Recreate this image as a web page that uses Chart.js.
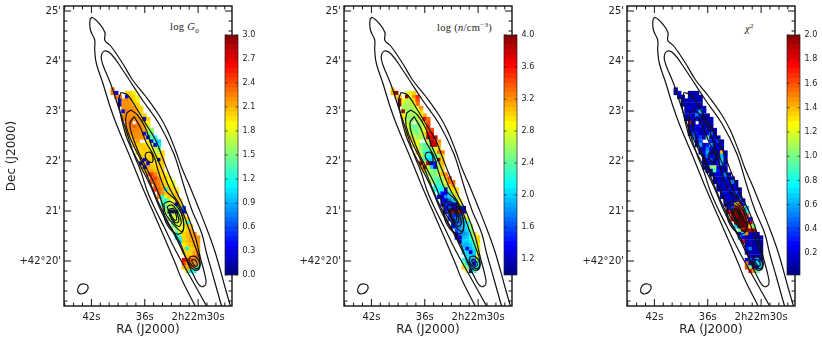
<!DOCTYPE html>
<html lang="en">
<head>
<meta charset="UTF-8">
<title>log G0, log n and chi2 maps</title>
<style>
  html, body { margin: 0; padding: 0; background: #fff; }
  #page { position: relative; width: 822px; height: 342px; overflow: hidden; }
  canvas { position: absolute; }
  .label { position: absolute; font-family: "Liberation Serif", serif; font-size: 10.5px; letter-spacing: 0.3px; color: #222; white-space: nowrap; }
  .label sub, .label sup { font-size: 7px; line-height: 0; }
</style>
</head>
<body>
<div id="page">
  <div class="label" style="left:170px;top:21px">log <i>G</i><sub>0</sub></div>
  <div class="label" style="left:437px;top:22px">log (<i>n</i>/cm<sup>&minus;3</sup>)</div>
  <div class="label" style="left:745px;top:23px"><i>&chi;</i><sup>2</sup></div>
</div>
<script src="https://cdn.jsdelivr.net/npm/chart.js"></script>
<script>
  // axis ticks
  const raMajor = [42, 36, 30];
  const raLabels = ["42s", "36s", "2h22m30s"];
  const raMinor = [45, 44, 43, 41, 40, 39, 38, 37, 35, 34, 33, 32, 31, 29, 28, 27];
  const decMajor = [25, 24, 23, 22, 21, 20];
  const decLabels = ["25'", "24'", "23'", "22'", "21'", "+42°20'"];
  const decMinor = [24.8, 24.6, 24.4, 24.2, 23.8, 23.6, 23.4, 23.2, 22.8, 22.6, 22.4, 22.2, 21.8, 21.6, 21.4, 21.2, 20.8, 20.6, 20.4, 20.2, 19.8, 19.6, 19.4, 19.2];

  // colour bars
  const barG0 = [0.0, 0.3, 0.6, 0.9, 1.2, 1.5, 1.8, 2.1, 2.4, 2.7, 3.0];
  const barN = [1.2, 1.6, 2.0, 2.4, 2.8, 3.2, 3.6, 4.0];
  const barChi = [0.2, 0.4, 0.6, 0.8, 1.0, 1.2, 1.4, 1.6, 1.8, 2.0];

  // pixel grid of the maps (seconds of RA, arcmin of Dec)
  const raCells = [39.6, 39.2, 38.8, 38.4, 38.0, 37.6, 37.2, 36.8, 36.4, 36.0, 35.6, 35.2, 34.8, 34.4, 34.0, 33.6, 33.2, 32.8, 32.4, 32.0, 31.6, 31.2, 30.8, 30.4, 30.0];
  const decCells = [23.43, 23.36, 23.28, 23.21, 23.13, 23.06, 22.99, 22.91, 22.84, 22.76, 22.69, 22.62, 22.54, 22.47, 22.39, 22.32, 22.24, 22.17, 22.10, 22.02, 21.95, 21.87, 21.80, 21.73, 21.65, 21.58, 21.50, 21.43, 21.35, 21.28, 21.21, 21.13, 21.06, 20.98, 20.91, 20.84, 20.76, 20.69, 20.61, 20.54, 20.47, 20.39, 20.32, 20.24, 20.17, 20.09, 20.02, 19.95, 19.87, 19.80];
  // first column used by each row
  const rowStart = [0, 0, 1, 2, 2, 3, 3, 3, 3, 4, 4, 4, 4, 5, 6, 6, 7, 7, 8, 8, 8, 8, 9, 10, 11, 11, 12, 12, 13, 13, 14, 14, 15, 15, 16, 16, 17, 17, 18, 18, 18, 19, 20, 20, 20, 21, 20, 20, 20, 21];

  const logG0 = [
    [2.25],
    [2.25, 0.3, null, null, 2.0, 2.0, 1.9],
    [2.25, 2.25, null, 0.3, 2.05, 2.0, 1.8],
    [0.3, 2.2, 2.25, 2.15, 2.0, 1.9],
    [0.3, 2.2, 2.2, 2.2, 2.05, 2.0],
    [2.2, 2.2, 2.2, 2.2, 2.05, 2.0],
    [0.3, 2.25, 2.2, 2.2, 2.15, 2.0],
    [2.25, 2.2, 2.2, 2.2, 2.15, 2.0, 2.0],
    [2.25, 2.2, 2.25, 2.2, 2.2, 2.15, 0.3, 2.0],
    [2.2, 2.35, null, 2.2, 2.2, 2.05, 1.9],
    [2.2, 2.25, 2.35, 2.25, 2.2, 2.15, 1.7],
    [2.15, 2.2, 2.25, 2.25, 2.2, 2.15, 1.7, 1.6],
    [2.05, 2.2, 2.2, 2.2, 2.2, 0.3, 1.5, 1.4],
    [2.0, 2.2, 2.2, 2.2, 2.15, 0.3, 1.4, 1.2],
    [2.05, 2.15, null, null, 1.9, 0.3, 1.3, 1.0],
    [2.0, 2.05, 2.05, 2.0, 1.9, 1.7, 0.3, 1.1],
    [2.0, 2.0, 2.05, 2.0, 1.9, 1.7, 1.5],
    [2.05, 2.0, 2.0, 2.0, 2.0, 1.8, 1.7, 2.0],
    [2.05, 2.0, 2.0, 2.0, 1.9, 1.9, 2.0],
    [2.0, 0.3, 2.05, 2.0, 1.9, 0.3, 2.0],
    [0.3, 2.05, 0.3, 2.0, 2.0, 2.0, 2.05],
    [2.05, 0.3, 2.15, 2.05, 2.0, 2.0, 2.0],
    [2.05, 2.05, 2.15, 2.05, 2.0, 2.0],
    [2.35, 2.45, 2.25, 2.05, 2.0, 1.9],
    [2.35, 2.45, 2.2, 2.05, 2.0, 1.9],
    [2.35, 2.35, 2.25, 2.05, 2.0, 1.9, 1.8],
    [2.35, 2.25, 2.15, 2.0, 2.0, 1.9],
    [2.45, 2.35, 2.2, 1.1, 2.0, 2.0, 1.9],
    [2.35, 2.2, 2.05, 2.0, 2.0, 2.05],
    [2.25, 1.2, 1.8, 2.05, 2.0, 2.05],
    [1.4, 1.2, 1.6, 1.9, 2.0, 2.05],
    [1.3, 1.5, 1.7, 1.8, 0.3, 2.0],
    [1.4, 1.6, 1.7, 1.6, 1.5, 0.6],
    [1.7, 0.1, 0.1, 0.1, 1.5, 0.4],
    [1.5, 1.7, 1.7, 1.6, 2.0],
    [1.5, 1.7, 1.8, 1.7, 1.9, 2.0],
    [1.4, 1.7, 1.8, 1.8, 1.2],
    [1.5, 1.7, 1.8, 1.9, 2.0, 2.05],
    [1.5, 1.8, 1.9, 2.0, 2.15],
    [1.2, 1.9, 2.0, 2.05, 2.15, 2.2],
    [1.1, 1.3, 2.0, 2.05, 2.15, 2.2, 2.2],
    [1.0, 2.0, 2.05, 2.15, 2.15, 2.2],
    [1.9, 2.0, 2.05, 2.15, 2.15],
    [2.0, 1.1, 2.0, 2.05, 2.15],
    [2.0, 2.0, 2.0, 2.15, 2.2],
    [2.05, 2.05, 2.25, 2.35],
    [2.7, 2.55, 2.35, 2.25, 2.2],
    [2.45, 2.25, 2.25, 2.2, 2.15],
    [2.05, 2.15, 2.2, 2.2, 1.2],
    [2.05, 1.1, 1.2]
  ];

  const logN = [
    [3.0],
    [3.1, 3.95, null, null, 2.8, 2.8, 3.0],
    [3.0, 3.0, null, 3.95, 2.8, 3.2, 3.5],
    [3.95, 2.9, 2.7, 2.7, 3.0, 3.4],
    [3.95, 2.7, 2.6, 2.6, 2.8, 3.3],
    [2.6, 2.6, 2.6, 2.6, 2.8, 3.2],
    [3.95, 2.6, 2.6, 2.6, 2.7, 3.0],
    [2.9, 2.6, 2.6, 2.6, 2.7, 2.9, 3.1],
    [3.0, 2.6, 2.5, 2.5, 2.6, 2.8, 3.6, 3.3],
    [2.7, 2.6, null, 2.6, 2.6, 2.9, 3.4],
    [2.8, 2.6, 2.4, 2.5, 2.6, 2.8, 3.5],
    [3.0, 2.6, 2.5, 2.5, 2.6, 2.8, 3.4, 3.4],
    [3.1, 2.7, 2.6, 2.5, 2.6, 3.0, 3.6, 3.6],
    [3.1, 2.7, 2.6, 2.6, 2.6, 3.9, 3.7, 3.8],
    [3.0, 2.8, null, null, 2.7, 3.9, 3.6, 3.2],
    [2.9, 2.8, 2.5, 2.4, 2.5, 3.7, 3.9, 3.1],
    [3.0, 2.6, 2.4, 2.4, 2.5, 2.8, 3.0],
    [3.1, 2.6, 2.3, 2.2, 2.4, 2.7, 3.3, 3.3],
    [2.9, 2.4, 2.2, 2.1, 2.3, 2.6, 3.0],
    [3.1, 2.3, 2.0, 2.0, 2.3, 3.9, 3.0],
    [3.9, 3.0, 3.9, 1.2, 1.4, 2.6, 3.1],
    [3.0, 3.9, 2.7, 2.0, 1.2, 2.6, 3.0],
    [3.1, 2.7, 2.6, 2.4, 2.7, 3.0],
    [2.6, 2.5, 2.5, 2.7, 3.1, 3.2],
    [2.6, 2.4, 2.4, 2.7, 3.1, 3.4],
    [2.7, 2.4, 2.3, 2.5, 2.9, 3.3, 3.3],
    [2.3, 2.3, 2.3, 2.6, 3.0, 3.2],
    [2.2, 2.2, 2.1, 1.4, 2.7, 3.0, 3.0],
    [2.1, 1.4, 1.3, 2.1, 2.7, 3.0],
    [1.4, 1.2, 1.8, 2.0, 2.5, 3.0],
    [1.3, 1.2, 1.7, 1.9, 2.3, 2.9],
    [1.3, 1.5, 1.2, 1.4, 1.2, 2.7],
    [1.4, 1.6, 1.3, 1.2, 1.2, 1.3],
    [1.5, 3.9, 3.9, 3.9, 3.7, 1.3],
    [1.6, 1.5, 1.5, 1.6, 3.0],
    [1.5, 1.6, 1.7, 1.8, 2.0, 2.8],
    [1.5, 1.6, 1.7, 1.8, 2.2],
    [1.4, 1.7, 1.8, 1.9, 2.1, 2.6],
    [1.6, 1.8, 1.9, 2.0, 2.5],
    [1.3, 1.8, 1.8, 1.9, 2.3, 3.0],
    [1.4, 1.2, 1.9, 2.0, 2.2, 2.6, 3.0],
    [1.3, 2.0, 2.0, 2.1, 2.5, 3.0],
    [1.9, 1.9, 2.0, 2.3, 2.8],
    [2.0, 1.3, 1.9, 2.1, 2.7],
    [2.0, 2.0, 1.2, 2.0, 2.9],
    [2.0, 2.0, 1.9, 2.7],
    [2.2, 2.0, 1.9, 1.8, 2.6],
    [2.6, 2.0, 1.8, 1.3, 2.1],
    [3.0, 2.4, 1.9, 1.8, 2.1],
    [2.9, 1.2, 2.3]
  ];

  const chiSq = [
    [0.1],
    [0.1, 0.2, null, null, 0.1, 0.1, 0.1],
    [0.1, 0.1, null, 0.1, 0.1, 0.15, 0.1],
    [0.1, 0.1, 0.15, 0.2, 0.1, 0.1],
    [0.1, 0.1, 0.1, 0.15, 0.15, 0.1],
    [0.1, 0.2, 0.15, 0.1, 0.1, 0.1],
    [0.1, 0.1, 0.2, 0.3, 0.7, 0.15],
    [0.15, 0.3, 0.1, 0.5, 0.3, 0.1, 0.1],
    [0.1, 0.1, 0.2, 0.3, 0.1, 0.1, 0.1, 0.15],
    [1.9, 0.1, null, 0.2, 0.1, 0.1, 0.1],
    [0.15, 0.1, 0.2, 0.3, 0.1, 0.15, 0.1],
    [0.3, 0.2, 0.2, 0.1, 0.1, 0.2, 0.15, 0.1],
    [0.1, 0.4, 0.3, 0.1, 0.1, 0.2, 0.5, 0.1],
    [0.5, 0.2, 0.4, 0.1, 0.9, 0.1, 0.2, 0.15],
    [0.15, 0.4, null, null, 0.3, 0.1, 0.4, 0.1],
    [0.1, 0.6, 0.1, 0.3, 0.6, 0.2, 0.1, 0.2],
    [0.3, 0.1, 0.5, 0.2, 0.1, 0.2, 0.1],
    [0.1, 0.3, 0.6, 0.1, 0.2, 0.1, 1.4, 0.1],
    [0.2, 0.5, 0.1, 0.3, 0.2, 0.6, 0.2],
    [0.1, 0.2, 0.4, 0.1, 0.2, 0.7, 0.1],
    [0.1, 0.1, 0.2, 0.1, 0.3, 0.6, 0.1],
    [0.1, 0.2, 1.0, 1.1, 0.2, 0.1, 0.15],
    [0.15, 0.1, 0.9, 0.3, 0.2, 0.1],
    [0.1, 0.1, 0.2, 0.15, 0.5, 0.1],
    [0.1, 0.15, 0.1, 0.3, 0.1, 0.1],
    [0.1, 0.2, 0.1, 0.2, 0.15, 0.5, 0.1],
    [0.1, 0.1, 0.2, 0.1, 0.1, 0.2],
    [0.15, 0.1, 0.1, 0.3, 0.1, 0.2, 0.1],
    [0.1, 0.2, 0.1, 0.1, 0.4, 0.1],
    [0.1, 0.1, 0.2, 0.1, 0.1, 0.2],
    [0.1, 0.15, 0.1, 0.1, 0.5, 0.15],
    [0.2, 0.1, 0.1, 1.3, 1.6, 0.3],
    [0.2, 0.4, 1.9, 1.8, 1.3, 0.6],
    [1.9, 1.9, 2.0, 2.0, 1.7, 0.8],
    [1.9, 2.0, 2.0, 1.9, 1.6],
    [1.9, 2.0, 2.0, 2.0, 1.6, 0.3],
    [1.8, 2.0, 2.0, 2.0, 1.9],
    [0.7, 2.0, 2.0, 2.0, 1.3, 1.0],
    [1.0, 1.9, 2.0, 1.9, 1.9],
    [0.3, 0.7, 1.5, 0.1, 0.2, 0.1],
    [0.5, 0.2, 0.1, 0.15, 0.1, 0.1, 0.1],
    [1.8, 0.1, 0.15, 0.1, 0.1, 0.1],
    [0.1, 0.1, 0.1, 0.1, 0.1],
    [0.3, 0.5, 0.1, 0.1, 0.1],
    [0.1, 0.1, 0.15, 0.1, 0.1],
    [0.1, 0.1, 0.2, 0.1],
    [0.2, 0.4, 0.3, 0.6, 0.3],
    [1.5, 0.1, 0.1, 0.7, 0.6],
    [1.6, 1.0, 0.2, 0.1, 0.7],
    [1.7, 1.5, 0.9]
  ];

  // contours as [RA seconds, Dec arcmin]
  const contourA = [[30.33,19.10],[31.81,19.62],[32.56,19.95],[33.85,20.49],[35.15,21.02],[36.44,21.55],[37.81,22.15],[39.22,22.75],[39.96,23.12],[40.70,23.55],[41.44,23.95],[41.63,24.22],[41.63,24.42],[42.11,24.62],[42.15,24.82],[41.89,24.87],[41.07,24.74],[40.48,24.57],[40.48,24.41],[39.78,24.29],[38.48,23.95],[37.37,23.62],[35.89,23.29],[34.41,22.92],[33.48,22.62],[32.56,22.22],[31.81,21.85],[31.07,21.55],[30.15,21.15],[29.04,20.65],[28.04,20.15],[27.00,19.49],[26.37,19.10]];
  const contourB = [[29.04,19.10],[31.00,19.72],[32.56,20.22],[33.85,20.69],[34.78,21.02],[35.70,21.39],[36.44,21.79],[37.19,22.12],[38.11,22.62],[39.04,23.12],[39.78,23.52],[40.70,23.92],[40.89,24.09],[40.52,24.20],[39.78,24.14],[38.48,23.82],[36.26,23.22],[34.41,22.75],[32.74,22.15],[31.63,21.52],[30.70,21.02],[29.59,20.55],[29.04,20.15],[28.30,19.69],[27.37,19.10]];
  const contourC = [[38.67,23.37],[37.93,23.32],[36.81,23.02],[35.70,22.69],[34.78,22.42],[34.04,22.09],[33.30,21.75],[32.19,21.29],[31.26,20.95],[30.33,20.49],[29.78,20.09],[29.15,19.65],[29.15,19.53],[29.67,19.49],[30.33,19.65],[31.63,20.15],[32.74,20.55],[34.04,20.95],[35.33,21.49],[36.63,21.95],[37.93,22.42],[38.67,22.89],[38.93,23.22],[38.67,23.37]];
  const contourD = [[37.56,23.02],[36.81,22.92],[35.89,22.65],[35.33,22.35],[34.59,22.05],[34.04,21.82],[33.11,21.42],[32.00,21.09],[31.26,20.75],[30.33,20.29],[29.78,19.99],[29.96,19.83],[30.52,19.83],[31.26,20.02],[32.00,20.35],[33.30,20.75],[34.41,21.15],[35.52,21.62],[36.44,22.02],[37.37,22.35],[38.11,22.72],[38.04,22.95],[37.56,23.02]];
  const contourE = [[37.19,22.89],[36.44,22.65],[35.89,22.39],[34.96,22.09],[34.52,21.82],[33.67,21.42],[32.56,21.22],[31.74,20.89],[31.74,20.59],[32.56,20.55],[33.67,20.79],[34.04,21.15],[34.78,21.49],[35.70,21.82],[36.63,22.15],[37.37,22.49],[37.67,22.75],[37.19,22.89]];
  const lobeNorth = [[35.81,22.17],[35.33,22.17],[35.07,22.05],[35.22,21.97],[35.70,22.01],[35.96,22.10],[35.81,22.17]];
  const knot1 = [[33.85,21.15],[33.11,21.19],[32.00,20.99],[31.63,20.75],[31.81,20.59],[32.56,20.69],[33.67,20.95],[33.85,21.15]];
  const knot2 = [[33.48,21.09],[32.93,21.12],[32.19,20.95],[31.89,20.77],[32.19,20.69],[32.93,20.82],[33.48,21.09]];
  const knot3 = [[33.30,21.03],[32.81,21.05],[32.30,20.92],[32.19,20.79],[32.56,20.77],[33.11,20.89],[33.30,21.03]];
  const knot4 = [[33.11,21.01],[32.74,21.01],[32.44,20.90],[32.44,20.82],[32.74,20.83],[33.04,20.92],[33.11,21.01]];
  const lobeSouth1 = [[30.89,20.09],[30.33,20.09],[29.81,19.95],[30.04,19.85],[30.44,19.87],[31.00,19.99],[30.89,20.09]];
  const lobeSouth2 = [[30.70,20.03],[30.33,20.02],[30.07,19.92],[30.33,19.90],[30.70,19.99],[30.70,20.03]];
  const beam = [[43.56,19.43],[43.30,19.52],[42.74,19.54],[42.37,19.49],[42.56,19.39],[43.11,19.34],[43.48,19.37],[43.56,19.43]];
  const contours = [contourA, contourB, contourC, contourD, contourE, lobeNorth, knot1, knot2, knot3, knot4, lobeSouth1, lobeSouth2, beam];

  function jet(t) {
    t = Math.max(0, Math.min(1, t));
    const c = v => Math.round(255 * Math.max(0, Math.min(1, v)));
    return `rgb(${c(1.5 - Math.abs(4 * t - 3))},${c(1.5 - Math.abs(4 * t - 2))},${c(1.5 - Math.abs(4 * t - 1))})`;
  }

  function addCanvas(left, top, width, height) {
    const canvas = document.createElement("canvas");
    canvas.width = width;
    canvas.height = height;
    canvas.style.left = left + "px";
    canvas.style.top = top + "px";
    document.getElementById("page").appendChild(canvas);
    return canvas.getContext("2d");
  }

  function tickLines(ctx, chart, scaleId, values, len) {
    const a = chart.chartArea, s = chart.scales[scaleId];
    ctx.beginPath();
    values.forEach(v => {
      const p = s.getPixelForValue(v);
      if (s.isHorizontal()) {
        ctx.moveTo(p, a.top); ctx.lineTo(p, a.top + len);
        ctx.moveTo(p, a.bottom); ctx.lineTo(p, a.bottom - len);
      } else {
        ctx.moveTo(a.left, p); ctx.lineTo(a.left + len, p);
        ctx.moveTo(a.right, p); ctx.lineTo(a.right - len, p);
      }
    });
    ctx.stroke();
  }

  const mapFrame = {
    id: "mapFrame",
    afterDatasetsDraw(chart) {
      const ctx = chart.ctx, a = chart.chartArea;
      ctx.save();
      ctx.strokeStyle = "#111";
      ctx.lineWidth = 1;
      tickLines(ctx, chart, "x", raMajor, 7);
      tickLines(ctx, chart, "x", raMinor, 3.5);
      tickLines(ctx, chart, "y", decMajor, 7);
      tickLines(ctx, chart, "y", decMinor, 3.5);
      ctx.lineWidth = 1.4;
      ctx.strokeRect(a.left, a.top, a.right - a.left, a.bottom - a.top);
      ctx.restore();
    }
  };

  function drawMap(left, yWidth, values, vmin, vmax, showDec) {
    const points = [], colors = [];
    values.forEach((row, j) => row.forEach((v, k) => {
      if (v === null) return;
      points.push({ x: raCells[rowStart[j] + k], y: decCells[j] });
      colors.push(jet((v - vmin) / (vmax - vmin)));
    }));
    const lines = contours.map(c => ({
      data: c.map(p => ({ x: p[0], y: p[1] })),
      showLine: true,
      borderColor: "#111",
      borderWidth: 1.2,
      tension: 0.4,
      pointRadius: 0
    }));
    new Chart(addCanvas(left, 0, yWidth + 172, 342), {
      type: "scatter",
      data: {
        datasets: lines.concat([{
          data: points,
          pointStyle: "rect",
          pointRadius: 3,
          pointBorderWidth: 0,
          backgroundColor: colors,
          borderColor: colors
        }])
      },
      options: {
        responsive: false,
        animation: false,
        events: [],
        layout: { padding: { top: 6, right: 2 } },
        plugins: { legend: { display: false }, tooltip: { enabled: false } },
        scales: {
          x: {
            type: "linear", reverse: true, min: 26.19, max: 45.08,
            grid: { display: false, drawTicks: false },
            border: { display: false },
            title: { display: true, text: "RA (J2000)", color: "#222", font: { family: "DejaVu Sans", size: 12 }, padding: { top: 0, bottom: 5 } },
            afterBuildTicks: s => { s.ticks = raMajor.map(v => ({ value: v })); },
            afterFit: s => { s.height = 36; s.paddingLeft = 0; s.paddingRight = 0; },
            ticks: {
              color: "#222", padding: 5, maxRotation: 0, autoSkip: false,
              font: { family: "DejaVu Sans", size: 10 },
              callback: v => raLabels[raMajor.indexOf(v)]
            }
          },
          y: {
            type: "linear", min: 19.1, max: 25.1,
            grid: { display: false, drawTicks: false },
            border: { display: false },
            title: { display: showDec, text: "Dec (J2000)", color: "#222", font: { family: "DejaVu Sans", size: 12 }, padding: { top: 5, bottom: 0 } },
            afterBuildTicks: s => { s.ticks = decMajor.map(v => ({ value: v })); },
            afterFit: s => { s.width = yWidth; s.paddingTop = 0; s.paddingBottom = 0; },
            ticks: {
              color: "#222", padding: 3, autoSkip: false,
              font: { family: "DejaVu Sans", size: 10 },
              callback: v => decLabels[decMajor.indexOf(v)]
            }
          }
        }
      },
      plugins: [mapFrame]
    });
  }

  function drawBar(left, ticks, vmin, vmax) {
    const levels = 50, datasets = [];
    for (let i = 0; i < levels; i++) {
      datasets.push({
        data: [[vmin + (vmax - vmin) * i / levels, vmin + (vmax - vmin) * (i + 1) / levels]],
        backgroundColor: jet((i + 0.5) / levels),
        borderWidth: 0,
        grouped: false,
        barPercentage: 1,
        categoryPercentage: 1
      });
    }
    new Chart(addCanvas(left - 1, 29, 46, 251), {
      type: "bar",
      data: { labels: [""], datasets: datasets },
      options: {
        responsive: false,
        animation: false,
        events: [],
        layout: { padding: { left: 1, top: 6, bottom: 5 } },
        plugins: { legend: { display: false }, tooltip: { enabled: false } },
        scales: {
          x: { display: false },
          y: {
            position: "right", min: vmin, max: vmax,
            grid: { display: false, drawTicks: false },
            border: { display: false },
            afterBuildTicks: s => { s.ticks = ticks.map(v => ({ value: v })); },
            afterFit: s => { s.width = 32; s.paddingTop = 0; s.paddingBottom = 0; },
            ticks: {
              color: "#222", padding: 4.5, autoSkip: false,
              font: { family: "DejaVu Sans", size: 8 },
              callback: v => v.toFixed(1)
            }
          }
        }
      },
      plugins: [{
        id: "barFrame",
        afterDatasetsDraw(chart) {
          const ctx = chart.ctx, a = chart.chartArea;
          ctx.save();
          ctx.strokeStyle = "#222";
          ctx.lineWidth = 0.7;
          tickLines(ctx, chart, "y", ticks, 2.5);
          ctx.strokeRect(a.left, a.top, a.right - a.left, a.bottom - a.top);
          ctx.restore();
        }
      }]
    });
  }

  drawMap(0, 64, logG0, 0, 3, true);
  drawMap(280, 64, logN, 1, 4, false);
  drawMap(560, 67, chiSq, 0.02, 2, false);
  drawBar(225, barG0, 0, 3);
  drawBar(504, barN, 1, 4);
  drawBar(787, barChi, 0.02, 2);
</script>
</body>
</html>
